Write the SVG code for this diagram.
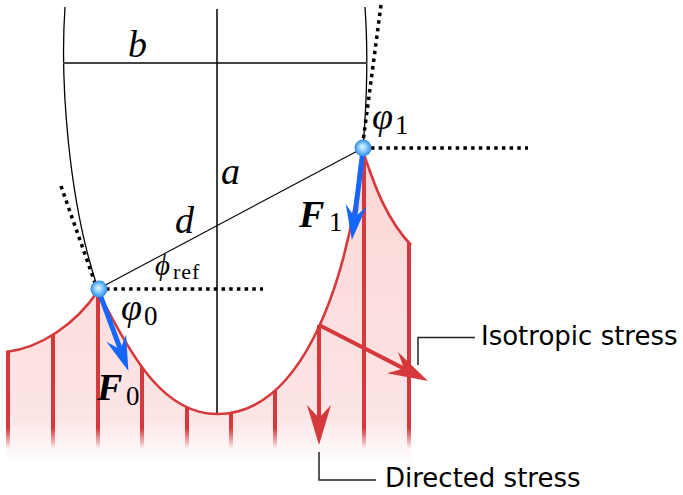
<svg xmlns="http://www.w3.org/2000/svg" width="683" height="495" viewBox="0 0 683 495">
<style>
.thin{fill:none;stroke:#000;stroke-width:1.3}
.dot{fill:none;stroke:#000;stroke-width:3.5;stroke-dasharray:3.5 4.2}
.red{fill:none;stroke:#d6393b;stroke-linecap:butt}
.blue{fill:none;stroke:#1466ff;stroke-width:5}
.math{font-family:"Liberation Serif","DejaVu Serif",serif;font-style:italic;font-size:38px;fill:#000}
.sub{font-family:"Liberation Serif","DejaVu Serif",serif;font-size:27px;fill:#000}
.bold{font-weight:bold}
.lbl{font-family:"DejaVu Sans",Verdana,sans-serif;font-size:26px;fill:#000}
.lead{fill:none;stroke:#222;stroke-width:1.5}
</style>
<defs>
<marker id="bh" markerUnits="userSpaceOnUse" markerWidth="40" markerHeight="30" refX="0" refY="0" viewBox="-14 -12 40 24" orient="auto" overflow="visible">
<path d="M23,0 L-12,-10.5 L0,0 L-12,10.5 Z" fill="#1466ff"/>
</marker>
<marker id="rh" markerUnits="userSpaceOnUse" markerWidth="44" markerHeight="30" refX="0" refY="0" viewBox="-15 -13 44 26" orient="auto" overflow="visible">
<path d="M27,0 L-13,-12 L0,0 L-13,12 Z" fill="#d6393b"/>
</marker>
<radialGradient id="ball" cx="50%" cy="50%" r="50%" fx="45%" fy="42%">
<stop offset="0" stop-color="#e6f6ff"/>
<stop offset="0.45" stop-color="#8fd0ff"/>
<stop offset="1" stop-color="#2d8ae6"/>
</radialGradient>
<linearGradient id="fillg" gradientUnits="userSpaceOnUse" x1="0" y1="150" x2="0" y2="465">
<stop offset="0" stop-color="#fcd6d6"/>
<stop offset="0.85" stop-color="#fde5e5"/>
<stop offset="1" stop-color="#fde7e7" stop-opacity="0"/>
</linearGradient>
<linearGradient id="lineg" gradientUnits="userSpaceOnUse" x1="0" y1="428" x2="0" y2="449">
<stop offset="0" stop-color="#d6393b"/>
<stop offset="1" stop-color="#d6393b" stop-opacity="0"/>
</linearGradient>
<clipPath id="region">
<path d="M6,352 C40,348 75,325 98,291 C133,361 165,414 217,414 C297,414 345,300 363,152 C370,170 382,215 411,245 L411,470 L6,470 Z"/>
</clipPath>
</defs>

<g id="cell">
<path class="thin" d="M65,7 C60,80 68,200 98,289"/>
<path class="thin" d="M365,7 C368,50 367,100 363,148"/>
</g>

<g id="geometry">
<line x1="63" y1="63" x2="367" y2="63" stroke="#444" stroke-width="1.8"/>
<line x1="217" y1="9" x2="217" y2="414" stroke="#000" stroke-width="1.5"/>
<line x1="98" y1="289" x2="363" y2="148" stroke="#000" stroke-width="1.1"/>
<line class="dot" x1="381" y1="5" x2="363" y2="142"/>
<line class="dot" x1="371" y1="148" x2="528" y2="148"/>
<line class="dot" x1="61" y1="186" x2="95" y2="283"/>
<line class="dot" x1="106" y1="289" x2="263" y2="289"/>
</g>

<g id="stress-field">
<path d="M6,352 C40,348 75,325 98,291 C133,361 165,414 217,414 C297,414 345,300 363,152 C370,170 382,215 411,245 L411,470 L6,470 Z" fill="url(#fillg)"/>
<g clip-path="url(#region)" stroke="url(#lineg)" stroke-width="4">
<line x1="8" y1="140" x2="8" y2="449"/>
<line x1="53" y1="140" x2="53" y2="449"/>
<line x1="98" y1="140" x2="98" y2="449"/>
<line x1="142" y1="140" x2="142" y2="449"/>
<line x1="187" y1="140" x2="187" y2="449"/>
<line x1="231" y1="140" x2="231" y2="449"/>
<line x1="275" y1="140" x2="275" y2="449"/>
<line x1="364" y1="140" x2="364" y2="449"/>
<line x1="409" y1="140" x2="409" y2="449"/>
</g>
<path class="red" stroke-width="2.6" d="M6,352 C40,348 75,325 98,291 C133,361 165,414 217,414 C297,414 345,300 363,152 C370,170 382,215 411,245"/>
</g>

<g id="stress-arrows">
<line class="red" stroke-width="4" x1="319" y1="325" x2="319" y2="418" marker-end="url(#rh)"/>
<line class="red" stroke-width="4" x1="319" y1="325" x2="404" y2="368.6" marker-end="url(#rh)"/>
</g>

<g id="forces">
<line class="blue" x1="363" y1="150" x2="354.7" y2="217.2" marker-end="url(#bh)"/>
<line class="blue" x1="98" y1="289" x2="120.4" y2="349.4" marker-end="url(#bh)"/>
</g>

<g id="node-p1"><circle cx="363" cy="148" r="8.5" fill="url(#ball)"/></g>
<g id="node-p0"><circle cx="99" cy="289" r="8.5" fill="url(#ball)"/></g>

<g id="connectors">
<polyline class="lead" points="418,365 418,337.5 475,337.5"/>
<polyline class="lead" points="319,452 319,480 376,480"/>
</g>

<g id="labels">
<text class="math" x="128" y="57">b</text>
<text class="math" x="221" y="184">a</text>
<text class="math" x="175" y="233">d</text>
<text class="math bold" x="299" y="227">F</text><text class="sub" x="329" y="231">1</text>
<text class="math bold" x="97" y="400">F</text><text class="sub" x="126" y="405">0</text>
<text class="math" x="372" y="129">φ</text><text class="sub" x="395" y="134">1</text>
<text class="math" x="121" y="320">φ</text><text class="sub" x="144" y="325">0</text>
<text class="math" x="155" y="275" style="font-size:29px">ϕ</text><text class="sub" x="173" y="279" style="font-size:22px;letter-spacing:1px">ref</text>
<text class="lbl" x="481" y="345">Isotropic stress</text>
<text class="lbl" x="385" y="487">Directed stress</text>
</g>
</svg>
